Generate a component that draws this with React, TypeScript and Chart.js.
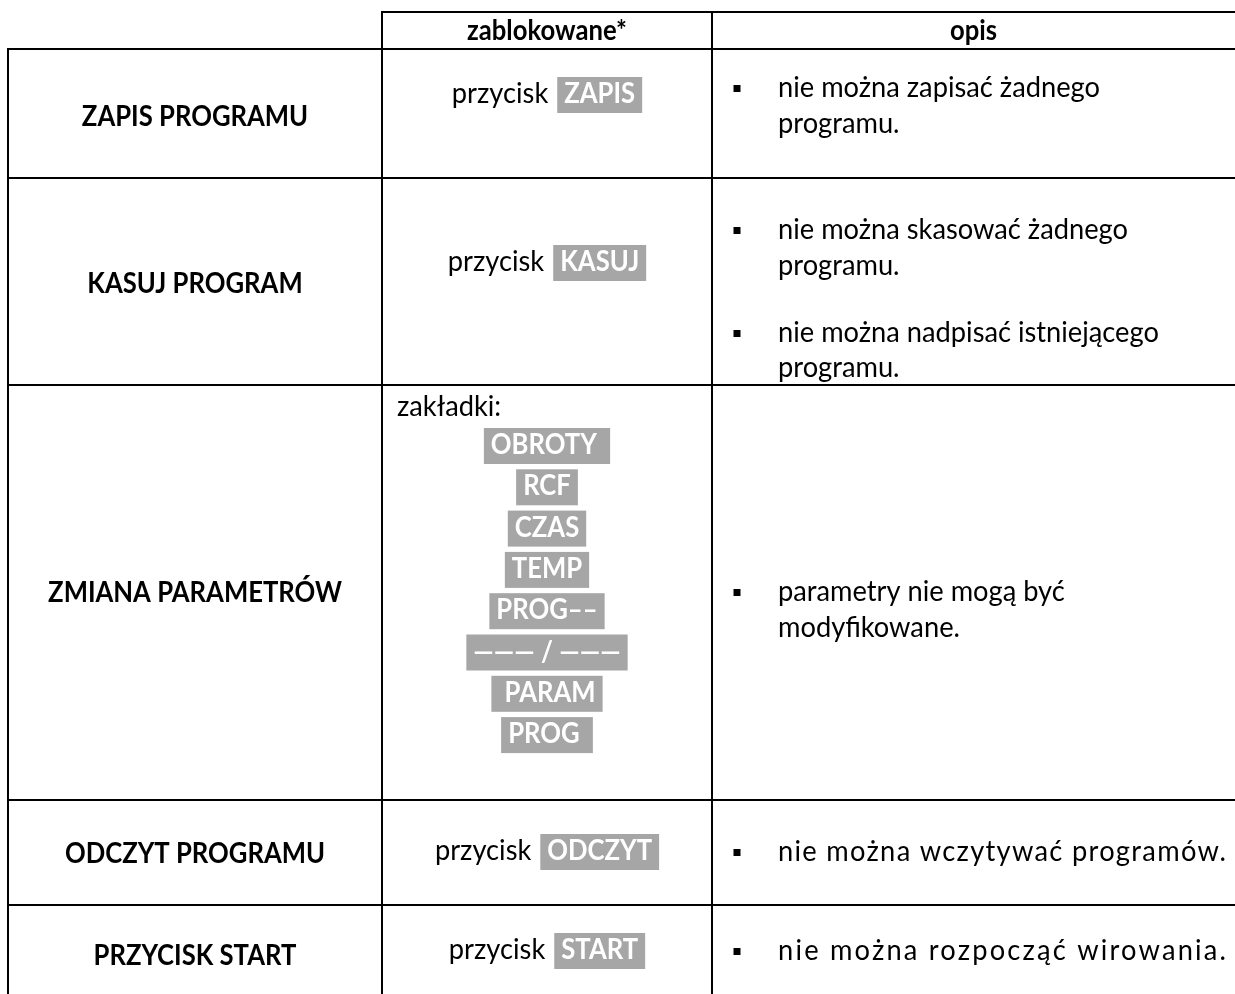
import React, { useEffect, useRef } from 'react';
import { Chart, registerables } from 'chart.js';

Chart.register(...registerables);

// ---- table content ----
const headers: string[] = ['', 'zablokowane*', 'opis'];
const functions: string[] = ['ZAPIS PROGRAMU', 'KASUJ PROGRAM', 'ZMIANA PARAMETRÓW', 'ODCZYT PROGRAMU', 'PRZYCISK START'];
const buttonPrefix = 'przycisk';
const buttons: (string | null)[] = ['ZAPIS', 'KASUJ', null, 'ODCZYT', 'START'];
const tabsLabel = 'zakładki:';
const tabs: string[] = ['OBROTY ', 'RCF', 'CZAS', 'TEMP', 'PROG––', '——— / ———', ' PARAM', 'PROG '];
const descriptions: string[][][] = [
  [['nie można zapisać żadnego', 'programu.']],
  [['nie można skasować żadnego', 'programu.'], ['nie można nadpisać istniejącego', 'programu.']],
  [['parametry nie mogą być', 'modyfikowane.']],
  [['nie można wczytywać programów.']],
  [['nie można rozpocząć wirowania.']],
];

// ---- layout (page pixels, mapped through the chart's scales) ----
const colEdges = [8, 382, 712, 1235];
const rowEdges = [12, 49, 178, 385, 800, 905, 994];
const headerBaseline = 40;
const col1Baselines = [126, 293, 602, 863, 965];
const col2Baselines = [103, 271, 0, 860, 959];
const tabsLabelBaseline = 416;
const tabsFirstBaseline = 454;
const tabsStep = 41.3;
const descBaselines: number[][][] = [
  [[97, 133]],
  [[239, 275], [342, 377]],
  [[601, 637]],
  [[861]],
  [[960]],
];
// single-line descriptions that are distributed to the cell's right edge
const descFitRight: (number | null)[] = [null, null, null, 1226, 1226];
const bulletX = 737;
const descTextX = 778;
const tabsLabelX = 397;

const FONT = 'Lato, "Open Sans", sans-serif';
const FS = 29;
const SX_BOLD = 0.885; // horizontal condensing to mimic a Calibri-like face
const SX_REG = 0.94;
const BADGE = '#a6a6a6';

const tablePlugin = {
  id: 'tablePlugin',
  afterDraw(chart: any) {
    const ctx: any = chart.ctx;
    const xs = chart.scales.x;
    const ys = chart.scales.y;
    const X = (v: number) => xs.getPixelForValue(v);
    const Y = (v: number) => ys.getPixelForValue(v);
    ctx.save();

    // borders
    ctx.strokeStyle = '#000';
    ctx.lineWidth = 2;
    const hline = (y: number, x0: number, x1: number) => {
      ctx.beginPath(); ctx.moveTo(X(x0), Y(y)); ctx.lineTo(X(x1), Y(y)); ctx.stroke();
    };
    const vline = (x: number, y0: number, y1: number) => {
      ctx.beginPath(); ctx.moveTo(X(x), Y(y0)); ctx.lineTo(X(x), Y(y1)); ctx.stroke();
    };
    hline(rowEdges[0], colEdges[1], colEdges[3]);
    for (let i = 1; i < rowEdges.length - 1; i++) hline(rowEdges[i], colEdges[0] - 1, colEdges[3]);
    vline(colEdges[0], rowEdges[1] - 1, rowEdges[rowEdges.length - 1]);
    vline(colEdges[1], rowEdges[0] - 1, rowEdges[rowEdges.length - 1]);
    vline(colEdges[2], rowEdges[0] - 1, rowEdges[rowEdges.length - 1]);

    const bold = `bold ${FS}px ${FONT}`;
    const reg = `${FS}px ${FONT}`;
    ctx.textBaseline = 'alphabetic';

    const sxOf = (font: string) => (font.startsWith('bold') ? SX_BOLD : SX_REG);
    const measure = (text: string, font: string) => {
      ctx.font = font;
      ctx.letterSpacing = '0px';
      return ctx.measureText(text).width * sxOf(font);
    };
    const draw = (
      text: string, x: number, baseline: number, font: string, color: string,
      align: 'left' | 'center', fitRight: number | null = null,
    ) => {
      const w = measure(text, font);
      const left = align === 'center' ? x - w / 2 : x;
      ctx.save();
      ctx.font = font;
      ctx.fillStyle = color;
      if (fitRight !== null && text.length > 1) {
        const extra = (X(fitRight) - X(left) - w) / sxOf(font);
        if (extra > 0) ctx.letterSpacing = `${extra / (text.length - 1)}px`;
      }
      ctx.translate(X(left), Y(baseline));
      ctx.scale(sxOf(font), 1);
      ctx.textAlign = 'left';
      ctx.fillText(text, 0, 0);
      ctx.restore();
    };

    // headers
    headers.forEach((h, i) => {
      if (!h) return;
      draw(h, (colEdges[i] + colEdges[i + 1]) / 2, headerBaseline, bold, '#000', 'center');
    });

    const PAD = 7;
    const badgeWidth = (text: string) => measure(text, bold) + 2 * PAD;
    const badge = (text: string, left: number, baseline: number) => {
      const w = badgeWidth(text);
      ctx.fillStyle = BADGE;
      ctx.fillRect(X(left), Y(baseline - 26), w, 36);
      draw(text, left + PAD, baseline, bold, '#fff', 'left');
    };

    functions.forEach((f, r) => {
      // col 1
      draw(f, (colEdges[0] + colEdges[1]) / 2, col1Baselines[r], bold, '#000', 'center');

      // col 2
      const cx = (colEdges[1] + colEdges[2]) / 2;
      const b = buttons[r];
      if (b) {
        const pw = measure(buttonPrefix, reg);
        const gap = 9;
        const total = pw + gap + badgeWidth(b);
        const left = cx - total / 2;
        draw(buttonPrefix, left, col2Baselines[r], reg, '#000', 'left');
        badge(b, left + pw + gap, col2Baselines[r]);
      } else {
        draw(tabsLabel, tabsLabelX, tabsLabelBaseline, reg, '#000', 'left');
        tabs.forEach((t, k) => {
          const bw = badgeWidth(t);
          badge(t, cx - bw / 2, tabsFirstBaseline + k * tabsStep);
        });
      }

      // col 3
      descriptions[r].forEach((item, k) => {
        const bl = descBaselines[r][k];
        ctx.fillStyle = '#000';
        ctx.fillRect(X(bulletX - 3.5), Y(bl[0] - 12), 7, 7);
        item.forEach((line, j) => {
          const fit = item.length === 1 ? descFitRight[r] : null;
          draw(line, descTextX, bl[j], reg, '#000', 'left', fit);
        });
      });
    });

    ctx.restore();
  },
};

export default function App() {
  const ref = useRef<HTMLCanvasElement | null>(null);
  useEffect(() => {
    if (!ref.current) return;
    const chart = new Chart(ref.current, {
      type: 'scatter',
      data: { datasets: [] },
      options: {
        animation: false,
        responsive: true,
        maintainAspectRatio: false,
        layout: { padding: 0 },
        plugins: { legend: { display: false }, tooltip: { enabled: false } },
        scales: {
          x: { type: 'linear', min: 0, max: 1235, display: false },
          y: { type: 'linear', min: 0, max: 994, reverse: true, display: false },
        },
      },
      plugins: [tablePlugin],
    });
    return () => chart.destroy();
  }, []);
  return (
    <div style={{ position: 'fixed', left: 0, top: 0, width: 1235, height: 994, background: '#fff' }}>
      <canvas ref={ref} />
    </div>
  );
}
